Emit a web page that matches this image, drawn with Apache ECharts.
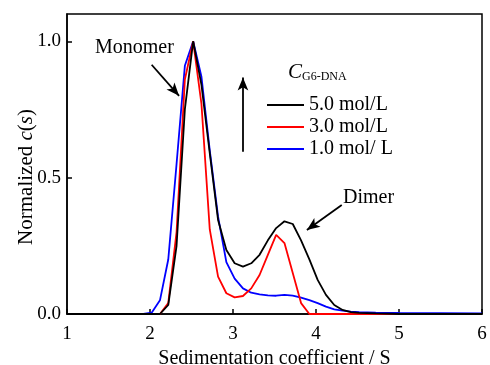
<!DOCTYPE html>
<html>
<head>
<meta charset="utf-8">
<script src="https://cdn.jsdelivr.net/npm/echarts@6/dist/echarts.min.js"></script>
<style>
  html, body { margin: 0; padding: 0; background: #fff; }
  #main { width: 490px; height: 365px; }
</style>
</head>
<body>
<div id="main"></div>
<script>
// sedimentation coefficient grid (S)
var sGrid = [1.0, 1.92, 2.02, 2.12, 2.22, 2.32, 2.42, 2.52, 2.62, 2.72, 2.82, 2.92, 3.02, 3.12, 3.22, 3.32,
             3.42, 3.52, 3.62, 3.72, 3.82, 3.92, 4.02, 4.12, 4.22, 4.32, 4.42, 4.52, 4.72, 5.0, 6.0];
// normalized c(s)
var c5 = [0, 0, 0, 0, 0.033, 0.25, 0.75, 1.0, 0.84, 0.59, 0.345, 0.235, 0.186, 0.174, 0.186, 0.217,
          0.27, 0.315, 0.34, 0.33, 0.27, 0.2, 0.125, 0.07, 0.033, 0.015, 0.007, 0.004, 0.002, 0, 0];
var c3 = [0, 0, 0, 0, 0.04, 0.3, 0.86, 1.0, 0.77, 0.31, 0.137, 0.076, 0.061, 0.066, 0.094, 0.143,
          0.217, 0.29, 0.26, 0.15, 0.04, 0, 0, 0, 0, 0, 0, 0, 0, 0, 0];
var c1 = [0, 0, 0.005, 0.05, 0.2, 0.55, 0.91, 1.0, 0.87, 0.6, 0.357, 0.19, 0.13, 0.094, 0.078, 0.072,
          0.068, 0.067, 0.07, 0.067, 0.06, 0.051, 0.04, 0.027, 0.017, 0.012, 0.009, 0.007, 0.005, 0.004, 0.002];
var seriesNames = ['5.0 mol/L', '3.0 mol/L', '1.0 mol/ L'];
var xTicks = [1, 2, 3, 4, 5, 6];
var yTicks = [0, 0.5, 1.0];

// annotation arrows in data coords [from, to]
var arrowMonomer = [[2.02, 0.914], [2.35, 0.80]];
var arrowDimer = [[4.31, 0.40], [3.89, 0.308]];
var arrowConc = [[3.12, 0.595], [3.12, 0.867]];

function pairs(ys) {
  var out = [];
  for (var i = 0; i < sGrid.length; i++) out.push([sGrid[i], ys[i]]);
  return out;
}

var FONT = 'Liberation Serif, Times New Roman, serif';
var myChart = echarts.init(document.getElementById('main'));

function arrowLine(a) {
  return [{ coord: a[0] }, { coord: a[1] }];
}

var option = {
  animation: false,
  grid: {
    left: 67, right: 8, top: 14, bottom: 51,
    containLabel: false, outerBoundsMode: 'none',
    show: true, borderColor: '#000', borderWidth: 1.5
  },
  legend: {
    orient: 'vertical',
    left: 262, top: 90,
    itemWidth: 37, itemHeight: 2, itemGap: 2,
    icon: 'rect',
    data: seriesNames,
    textStyle: { fontFamily: FONT, fontSize: 20, color: '#000', lineHeight: 20 }
  },
  xAxis: {
    type: 'value',
    min: xTicks[0], max: xTicks[xTicks.length - 1], interval: 1,
    name: 'Sedimentation coefficient / S',
    nameLocation: 'middle', nameGap: 35,
    nameTextStyle: { fontFamily: FONT, fontSize: 20, color: '#000' },
    axisLine: { lineStyle: { color: '#000', width: 1.5 } },
    axisTick: { inside: true, length: 5, lineStyle: { color: '#000', width: 1.5 } },
    axisLabel: { fontFamily: FONT, fontSize: 19, color: '#000', margin: 11 },
    splitLine: { show: false }
  },
  yAxis: {
    type: 'value',
    min: 0, max: 1.1, interval: 0.5,
    name: '{a|Normalized }{i|c}{a|(}{i|s}{a|)}',
    nameLocation: 'middle', nameGap: 30, nameMoveOverlap: false,
    nameTextStyle: {
      fontFamily: FONT, fontSize: 21, color: '#000',
      padding: [0, 26, 0, 0],
      rich: {
        a: { fontFamily: FONT, fontSize: 21, color: '#000', fontStyle: 'normal' },
        i: { fontFamily: FONT, fontSize: 21, color: '#000', fontStyle: 'italic' }
      }
    },
    axisLine: { show: true, lineStyle: { color: '#000', width: 1.5 } },
    axisTick: { show: true, inside: true, length: 5, lineStyle: { color: '#000', width: 1.5 } },
    axisLabel: {
      fontFamily: FONT, fontSize: 19, color: '#000', margin: 6, showMaxLabel: false,
      formatter: function (v) { return yTicks.indexOf(v) >= 0 ? v.toFixed(1) : ''; }
    },
    splitLine: { show: false }
  },
  graphic: [
    { type: 'text', left: 95, top: 38, style: { text: 'Monomer', font: '20px ' + FONT, fill: '#000' } },
    { type: 'text', left: 343, top: 188, style: { text: 'Dimer', font: '20px ' + FONT, fill: '#000' } },
    {
      type: 'text', left: 288, top: 62,
      style: {
        text: '{c|C}{s|G6-DNA}',
        rich: {
          c: { fontFamily: FONT, fontSize: 21, fontStyle: 'italic', fill: '#000', verticalAlign: 'bottom' },
          s: { fontFamily: FONT, fontSize: 12, fill: '#000', verticalAlign: 'bottom' }
        }
      }
    }
  ],
  series: [
    {
      name: seriesNames[0], type: 'line', symbol: 'none', z: 4,
      data: pairs(c5),
      lineStyle: { color: '#000', width: 1.8 }, itemStyle: { color: '#000' },
      markLine: {
        silent: true, symbol: ['none', 'arrow'], symbolSize: [8, 13],
        label: { show: false },
        lineStyle: { color: '#000', width: 1.8, type: 'solid' },
        data: [arrowLine(arrowMonomer), arrowLine(arrowDimer), arrowLine(arrowConc)]
      }
    },
    {
      name: seriesNames[1], type: 'line', symbol: 'none', z: 3,
      data: pairs(c3),
      lineStyle: { color: '#ff0000', width: 1.8 }, itemStyle: { color: '#ff0000' }
    },
    {
      name: seriesNames[2], type: 'line', symbol: 'none', z: 2,
      data: pairs(c1),
      lineStyle: { color: '#0000ff', width: 1.8 }, itemStyle: { color: '#0000ff' }
    }
  ]
};
myChart.setOption(option);
</script>
</body>
</html>
